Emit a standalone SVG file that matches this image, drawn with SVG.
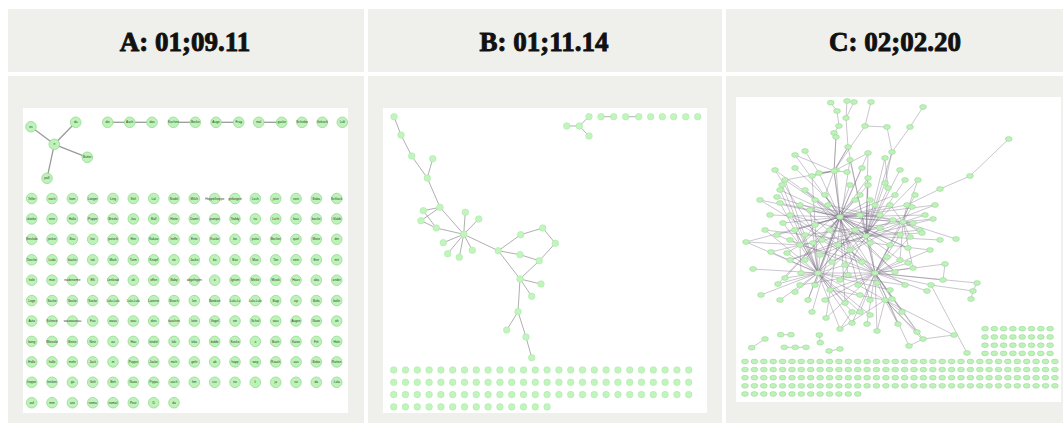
<svg xmlns="http://www.w3.org/2000/svg" xmlns:xlink="http://www.w3.org/1999/xlink" width="1063" height="423" viewBox="0 0 1063 423">
<style>
.cell{fill:#eff0eb}
.img{fill:#ffffff}
.hd{font-family:"Liberation Serif","DejaVu Serif",serif;font-weight:700;font-size:27px;fill:#111;stroke:#111;stroke-width:0.9;text-anchor:middle}
#pA circle{fill:#bdf3b8;stroke:#93dc8e;stroke-width:0.8}
#pA text{font-family:"Liberation Sans",Arial,sans-serif;font-size:3.2px;fill:#333;text-anchor:middle}
.ea{stroke:#9a9a9a;stroke-width:1.3;fill:none}
.nb{fill:#c2f5bd;stroke:#a5e6a0;stroke-width:0.5}
.eb{stroke:#b0b0b0;stroke-width:1;fill:none}
.nc{fill:#bff1ba;stroke:#8fd58a;stroke-width:0.5}
.ec{stroke:#7d7386;stroke-width:0.55;fill:none;opacity:0.75}
</style>
<defs>
<circle id="bn" r="3.3" class="nb"/>
<ellipse id="cn" rx="3.4" ry="2.4" class="nc"/>
</defs>
<rect width="1063" height="423" fill="#ffffff"/>
<g id="cells">
<rect class="cell" x="8" y="9" width="356" height="63"/>
<rect class="cell" x="368" y="9" width="354" height="63"/>
<rect class="cell" x="726" y="9" width="337" height="63"/>
<rect class="cell" x="8" y="76" width="356" height="347"/>
<rect class="cell" x="368" y="76" width="354" height="347"/>
<rect class="cell" x="726" y="76" width="337" height="347"/>
<rect class="img" x="23" y="108" width="325" height="305"/>
<rect class="img" x="383" y="108" width="324" height="305"/>
<rect class="img" x="736" y="97" width="325" height="305"/>
</g>
<g id="headers">
<text class="hd" x="185" y="50.5">A: 01;09.11</text>
<text class="hd" x="544" y="50.5">B: 01;11.14</text>
<text class="hd" x="895" y="50.5">C: 02;02.20</text>
</g>

<g id="pA">
<g id="connectorsA">
<line class="ea" x1="54.3" y1="144.3" x2="31" y2="126.7"/>
<line class="ea" x1="54.3" y1="144.3" x2="75.7" y2="122.3"/>
<line class="ea" x1="54.3" y1="144.3" x2="87.3" y2="157.3"/>
<line class="ea" x1="54.3" y1="144.3" x2="47" y2="178.3"/>
<line class="ea" x1="107.7" y1="122.3" x2="129.7" y2="122.3"/>
<line class="ea" x1="129.7" y1="122.3" x2="152" y2="122.3"/>
<line class="ea" x1="173.3" y1="122.3" x2="195.3" y2="122.3"/>
<line class="ea" x1="216" y1="122.3" x2="238.7" y2="122.3"/>
<line class="ea" x1="258.7" y1="122.3" x2="281.7" y2="122.3"/>
</g>
<g id="a-es" transform="translate(31 126.7)"><circle r="5.3"/><text y="1.1">es</text></g>
<g id="a-da0" transform="translate(75.7 122.3)"><circle r="5.3"/><text y="1.1">da</text></g>
<g id="a-n" transform="translate(54.3 144.3)"><circle r="5.3"/><text y="1.1">n</text></g>
<g id="a-butter" transform="translate(87.3 157.3)"><circle r="5.3"/><text y="1.1">Butter</text></g>
<g id="a-pass" transform="translate(47 178.3)"><circle r="5.3"/><text y="1.1">paß</text></g>
<g id="a-die" transform="translate(107.7 122.3)"><circle r="5.3"/><text y="1.1">die</text></g>
<g id="a-auch0" transform="translate(129.7 122.3)"><circle r="5.3"/><text y="1.1">Auch</text></g>
<g id="a-das" transform="translate(152 122.3)"><circle r="5.3"/><text y="1.1">das</text></g>
<g id="a-kuchen" transform="translate(173.3 122.3)"><circle r="5.3"/><text y="1.1">Kuchen</text></g>
<g id="a-becke" transform="translate(195.3 122.3)"><circle r="5.3"/><text y="1.1">Becke</text></g>
<g id="a-auge" transform="translate(216 122.3)"><circle r="5.3"/><text y="1.1">Auge</text></g>
<g id="a-frag" transform="translate(238.7 122.3)"><circle r="5.3"/><text y="1.1">Frag</text></g>
<g id="a-mal" transform="translate(258.7 122.3)"><circle r="5.3"/><text y="1.1">mal</text></g>
<g id="a-gucke" transform="translate(281.7 122.3)"><circle r="5.3"/><text y="1.1">gucke</text></g>
<g id="a-schiebe" transform="translate(302 122.3)"><circle r="5.3"/><text y="1.1">Schiebe</text></g>
<g id="a-gekoch" transform="translate(322.3 122.3)"><circle r="5.3"/><text y="1.1">Gekoch</text></g>
<g id="a-luft" transform="translate(342.3 122.3)"><circle r="5.3"/><text y="1.1">Luft</text></g>

<g id="a1-1" transform="translate(31.7 198.5)"><circle r="5.3"/><text y="1.1">Teller</text></g>
<g id="a1-2" transform="translate(52 198.5)"><circle r="5.3"/><text y="1.1">noch</text></g>
<g id="a1-3" transform="translate(72.4 198.5)"><circle r="5.3"/><text y="1.1">ham</text></g>
<g id="a1-4" transform="translate(92.7 198.5)"><circle r="5.3"/><text y="1.1">Langer</text></g>
<g id="a1-5" transform="translate(113 198.5)"><circle r="5.3"/><text y="1.1">Ling</text></g>
<g id="a1-6" transform="translate(133.3 198.5)"><circle r="5.3"/><text y="1.1">Stirl</text></g>
<g id="a1-7" transform="translate(153.7 198.5)"><circle r="5.3"/><text y="1.1">Lal</text></g>
<g id="a1-8" transform="translate(174 198.5)"><circle r="5.3"/><text y="1.1">Nudel</text></g>
<g id="a1-9" transform="translate(194.3 198.5)"><circle r="5.3"/><text y="1.1">Milch</text></g>
<g id="a1-10" transform="translate(214.7 198.5)"><circle r="5.3"/><text y="1.1">Hoppelhoppe</text></g>
<g id="a1-11" transform="translate(235 198.5)"><circle r="5.3"/><text y="1.1">gefangen</text></g>
<g id="a1-12" transform="translate(255.3 198.5)"><circle r="5.3"/><text y="1.1">Loch</text></g>
<g id="a1-13" transform="translate(275.7 198.5)"><circle r="5.3"/><text y="1.1">jetzt</text></g>
<g id="a1-14" transform="translate(296 198.5)"><circle r="5.3"/><text y="1.1">sein</text></g>
<g id="a1-15" transform="translate(316.3 198.5)"><circle r="5.3"/><text y="1.1">Baba</text></g>
<g id="a1-16" transform="translate(336.7 198.5)"><circle r="5.3"/><text y="1.1">Schluck</text></g>

<g id="a2-1" transform="translate(31.7 218.9)"><circle r="5.3"/><text y="1.1">danke</text></g>
<g id="a2-2" transform="translate(52 218.9)"><circle r="5.3"/><text y="1.1">eine</text></g>
<g id="a2-3" transform="translate(72.4 218.9)"><circle r="5.3"/><text y="1.1">Hallo</text></g>
<g id="a2-4" transform="translate(92.7 218.9)"><circle r="5.3"/><text y="1.1">Puppe</text></g>
<g id="a2-5" transform="translate(113 218.9)"><circle r="5.3"/><text y="1.1">Brezle</text></g>
<g id="a2-6" transform="translate(133.3 218.9)"><circle r="5.3"/><text y="1.1">Jua</text></g>
<g id="a2-7" transform="translate(153.7 218.9)"><circle r="5.3"/><text y="1.1">Ball</text></g>
<g id="a2-8" transform="translate(174 218.9)"><circle r="5.3"/><text y="1.1">Hatte</text></g>
<g id="a2-9" transform="translate(194.3 218.9)"><circle r="5.3"/><text y="1.1">Damit</text></g>
<g id="a2-10" transform="translate(214.7 218.9)"><circle r="5.3"/><text y="1.1">pumpe</text></g>
<g id="a2-11" transform="translate(235 218.9)"><circle r="5.3"/><text y="1.1">Teddy</text></g>
<g id="a2-12" transform="translate(255.3 218.9)"><circle r="5.3"/><text y="1.1">nu</text></g>
<g id="a2-13" transform="translate(275.7 218.9)"><circle r="5.3"/><text y="1.1">Licht</text></g>
<g id="a2-14" transform="translate(296 218.9)"><circle r="5.3"/><text y="1.1">bau</text></g>
<g id="a2-15" transform="translate(316.3 218.9)"><circle r="5.3"/><text y="1.1">backe</text></g>
<g id="a2-16" transform="translate(336.7 218.9)"><circle r="5.3"/><text y="1.1">Glabb</text></g>

<g id="a3-1" transform="translate(31.7 239.3)"><circle r="5.3"/><text y="1.1">Steckdo</text></g>
<g id="a3-2" transform="translate(52 239.3)"><circle r="5.3"/><text y="1.1">jecker</text></g>
<g id="a3-3" transform="translate(72.4 239.3)"><circle r="5.3"/><text y="1.1">Bau</text></g>
<g id="a3-4" transform="translate(92.7 239.3)"><circle r="5.3"/><text y="1.1">hoi</text></g>
<g id="a3-5" transform="translate(113 239.3)"><circle r="5.3"/><text y="1.1">putsch</text></g>
<g id="a3-6" transform="translate(133.3 239.3)"><circle r="5.3"/><text y="1.1">Hier</text></g>
<g id="a3-7" transform="translate(153.7 239.3)"><circle r="5.3"/><text y="1.1">Kakao</text></g>
<g id="a3-8" transform="translate(174 239.3)"><circle r="5.3"/><text y="1.1">heffe</text></g>
<g id="a3-9" transform="translate(194.3 239.3)"><circle r="5.3"/><text y="1.1">Ente</text></g>
<g id="a3-10" transform="translate(214.7 239.3)"><circle r="5.3"/><text y="1.1">Kucke</text></g>
<g id="a3-11" transform="translate(235 239.3)"><circle r="5.3"/><text y="1.1">bo</text></g>
<g id="a3-12" transform="translate(255.3 239.3)"><circle r="5.3"/><text y="1.1">putta</text></g>
<g id="a3-13" transform="translate(275.7 239.3)"><circle r="5.3"/><text y="1.1">Becher</text></g>
<g id="a3-14" transform="translate(296 239.3)"><circle r="5.3"/><text y="1.1">quel</text></g>
<g id="a3-15" transform="translate(316.3 239.3)"><circle r="5.3"/><text y="1.1">Moss</text></g>
<g id="a3-16" transform="translate(336.7 239.3)"><circle r="5.3"/><text y="1.1">der</text></g>

<g id="a4-1" transform="translate(31.7 259.8)"><circle r="5.3"/><text y="1.1">Tosche</text></g>
<g id="a4-2" transform="translate(52 259.8)"><circle r="5.3"/><text y="1.1">Ludo</text></g>
<g id="a4-3" transform="translate(72.4 259.8)"><circle r="5.3"/><text y="1.1">backe</text></g>
<g id="a4-4" transform="translate(92.7 259.8)"><circle r="5.3"/><text y="1.1">tati</text></g>
<g id="a4-5" transform="translate(113 259.8)"><circle r="5.3"/><text y="1.1">Mark</text></g>
<g id="a4-6" transform="translate(133.3 259.8)"><circle r="5.3"/><text y="1.1">Turm</text></g>
<g id="a4-7" transform="translate(153.7 259.8)"><circle r="5.3"/><text y="1.1">Knopf</text></g>
<g id="a4-8" transform="translate(174 259.8)"><circle r="5.3"/><text y="1.1">ne</text></g>
<g id="a4-9" transform="translate(194.3 259.8)"><circle r="5.3"/><text y="1.1">Jacke</text></g>
<g id="a4-10" transform="translate(214.7 259.8)"><circle r="5.3"/><text y="1.1">ba</text></g>
<g id="a4-11" transform="translate(235 259.8)"><circle r="5.3"/><text y="1.1">Box</text></g>
<g id="a4-12" transform="translate(255.3 259.8)"><circle r="5.3"/><text y="1.1">Max</text></g>
<g id="a4-13" transform="translate(275.7 259.8)"><circle r="5.3"/><text y="1.1">Ton</text></g>
<g id="a4-14" transform="translate(296 259.8)"><circle r="5.3"/><text y="1.1">nein</text></g>
<g id="a4-15" transform="translate(316.3 259.8)"><circle r="5.3"/><text y="1.1">Eier</text></g>
<g id="a4-16" transform="translate(336.7 259.8)"><circle r="5.3"/><text y="1.1">mit</text></g>

<g id="a5-1" transform="translate(31.7 280.2)"><circle r="5.3"/><text y="1.1">hole</text></g>
<g id="a5-2" transform="translate(52 280.2)"><circle r="5.3"/><text y="1.1">mun</text></g>
<g id="a5-3" transform="translate(72.4 280.2)"><circle r="5.3"/><text y="1.1">nudenorme</text></g>
<g id="a5-4" transform="translate(92.7 280.2)"><circle r="5.3"/><text y="1.1">Elk</text></g>
<g id="a5-5" transform="translate(113 280.2)"><circle r="5.3"/><text y="1.1">Lenkrad</text></g>
<g id="a5-6" transform="translate(133.3 280.2)"><circle r="5.3"/><text y="1.1">ah</text></g>
<g id="a5-7" transform="translate(153.7 280.2)"><circle r="5.3"/><text y="1.1">offen</text></g>
<g id="a5-8" transform="translate(174 280.2)"><circle r="5.3"/><text y="1.1">Baby</text></g>
<g id="a5-9" transform="translate(194.3 280.2)"><circle r="5.3"/><text y="1.1">abgefegen</text></g>
<g id="a5-10" transform="translate(214.7 280.2)"><circle r="5.3"/><text y="1.1">o</text></g>
<g id="a5-11" transform="translate(235 280.2)"><circle r="5.3"/><text y="1.1">Igitum</text></g>
<g id="a5-12" transform="translate(255.3 280.2)"><circle r="5.3"/><text y="1.1">Meike</text></g>
<g id="a5-13" transform="translate(275.7 280.2)"><circle r="5.3"/><text y="1.1">Musik</text></g>
<g id="a5-14" transform="translate(296 280.2)"><circle r="5.3"/><text y="1.1">Haus</text></g>
<g id="a5-15" transform="translate(316.3 280.2)"><circle r="5.3"/><text y="1.1">aba</text></g>
<g id="a5-16" transform="translate(336.7 280.2)"><circle r="5.3"/><text y="1.1">ander</text></g>

<g id="a6-1" transform="translate(31.7 300.6)"><circle r="5.3"/><text y="1.1">Loge</text></g>
<g id="a6-2" transform="translate(52 300.6)"><circle r="5.3"/><text y="1.1">Sache</text></g>
<g id="a6-3" transform="translate(72.4 300.6)"><circle r="5.3"/><text y="1.1">Socke</text></g>
<g id="a6-4" transform="translate(92.7 300.6)"><circle r="5.3"/><text y="1.1">Socke</text></g>
<g id="a6-5" transform="translate(113 300.6)"><circle r="5.3"/><text y="1.1">Lulu-Lulu</text></g>
<g id="a6-6" transform="translate(133.3 300.6)"><circle r="5.3"/><text y="1.1">Lulu-Lulu</text></g>
<g id="a6-7" transform="translate(153.7 300.6)"><circle r="5.3"/><text y="1.1">Laterne</text></g>
<g id="a6-8" transform="translate(174 300.6)"><circle r="5.3"/><text y="1.1">Busch</text></g>
<g id="a6-9" transform="translate(194.3 300.6)"><circle r="5.3"/><text y="1.1">Ion</text></g>
<g id="a6-10" transform="translate(214.7 300.6)"><circle r="5.3"/><text y="1.1">Bonbon</text></g>
<g id="a6-11" transform="translate(235 300.6)"><circle r="5.3"/><text y="1.1">Lulu-Lu</text></g>
<g id="a6-12" transform="translate(255.3 300.6)"><circle r="5.3"/><text y="1.1">Lulu-Lulu</text></g>
<g id="a6-13" transform="translate(275.7 300.6)"><circle r="5.3"/><text y="1.1">Bagi</text></g>
<g id="a6-14" transform="translate(296 300.6)"><circle r="5.3"/><text y="1.1">zip</text></g>
<g id="a6-15" transform="translate(316.3 300.6)"><circle r="5.3"/><text y="1.1">Bofa</text></g>
<g id="a6-16" transform="translate(336.7 300.6)"><circle r="5.3"/><text y="1.1">bolle</text></g>

<g id="a7-1" transform="translate(31.7 321)"><circle r="5.3"/><text y="1.1">Auto</text></g>
<g id="a7-2" transform="translate(52 321)"><circle r="5.3"/><text y="1.1">Schnee</text></g>
<g id="a7-3" transform="translate(72.4 321)"><circle r="5.3"/><text y="1.1">wauwauwau</text></g>
<g id="a7-4" transform="translate(92.7 321)"><circle r="5.3"/><text y="1.1">Fuu</text></g>
<g id="a7-5" transform="translate(113 321)"><circle r="5.3"/><text y="1.1">wauu</text></g>
<g id="a7-6" transform="translate(133.3 321)"><circle r="5.3"/><text y="1.1">wau</text></g>
<g id="a7-7" transform="translate(153.7 321)"><circle r="5.3"/><text y="1.1">dies</text></g>
<g id="a7-8" transform="translate(174 321)"><circle r="5.3"/><text y="1.1">tauchen</text></g>
<g id="a7-9" transform="translate(194.3 321)"><circle r="5.3"/><text y="1.1">lotte</text></g>
<g id="a7-10" transform="translate(214.7 321)"><circle r="5.3"/><text y="1.1">Vogel</text></g>
<g id="a7-11" transform="translate(235 321)"><circle r="5.3"/><text y="1.1">ein</text></g>
<g id="a7-12" transform="translate(255.3 321)"><circle r="5.3"/><text y="1.1">Schaf</text></g>
<g id="a7-13" transform="translate(275.7 321)"><circle r="5.3"/><text y="1.1">wau</text></g>
<g id="a7-14" transform="translate(296 321)"><circle r="5.3"/><text y="1.1">Augen</text></g>
<g id="a7-15" transform="translate(316.3 321)"><circle r="5.3"/><text y="1.1">Nase</text></g>
<g id="a7-16" transform="translate(336.7 321)"><circle r="5.3"/><text y="1.1">oh</text></g>

<g id="a8-1" transform="translate(31.7 341.4)"><circle r="5.3"/><text y="1.1">bong</text></g>
<g id="a8-2" transform="translate(52 341.4)"><circle r="5.3"/><text y="1.1">Wiesele</text></g>
<g id="a8-3" transform="translate(72.4 341.4)"><circle r="5.3"/><text y="1.1">Beine</text></g>
<g id="a8-4" transform="translate(92.7 341.4)"><circle r="5.3"/><text y="1.1">Ninir</text></g>
<g id="a8-5" transform="translate(113 341.4)"><circle r="5.3"/><text y="1.1">au</text></g>
<g id="a8-6" transform="translate(133.3 341.4)"><circle r="5.3"/><text y="1.1">Hau</text></g>
<g id="a8-7" transform="translate(153.7 341.4)"><circle r="5.3"/><text y="1.1">kindel</text></g>
<g id="a8-8" transform="translate(174 341.4)"><circle r="5.3"/><text y="1.1">kiki</text></g>
<g id="a8-9" transform="translate(194.3 341.4)"><circle r="5.3"/><text y="1.1">kika</text></g>
<g id="a8-10" transform="translate(214.7 341.4)"><circle r="5.3"/><text y="1.1">bidde</text></g>
<g id="a8-11" transform="translate(235 341.4)"><circle r="5.3"/><text y="1.1">Socke</text></g>
<g id="a8-12" transform="translate(255.3 341.4)"><circle r="5.3"/><text y="1.1">o</text></g>
<g id="a8-13" transform="translate(275.7 341.4)"><circle r="5.3"/><text y="1.1">Buch</text></g>
<g id="a8-14" transform="translate(296 341.4)"><circle r="5.3"/><text y="1.1">Katze</text></g>
<g id="a8-15" transform="translate(316.3 341.4)"><circle r="5.3"/><text y="1.1">Fitt</text></g>
<g id="a8-16" transform="translate(336.7 341.4)"><circle r="5.3"/><text y="1.1">Hole</text></g>

<g id="a9-1" transform="translate(31.7 361.9)"><circle r="5.3"/><text y="1.1">Hallo</text></g>
<g id="a9-2" transform="translate(52 361.9)"><circle r="5.3"/><text y="1.1">hallo</text></g>
<g id="a9-3" transform="translate(72.4 361.9)"><circle r="5.3"/><text y="1.1">mehr</text></g>
<g id="a9-4" transform="translate(92.7 361.9)"><circle r="5.3"/><text y="1.1">Jack</text></g>
<g id="a9-5" transform="translate(113 361.9)"><circle r="5.3"/><text y="1.1">m</text></g>
<g id="a9-6" transform="translate(133.3 361.9)"><circle r="5.3"/><text y="1.1">Puppe</text></g>
<g id="a9-7" transform="translate(153.7 361.9)"><circle r="5.3"/><text y="1.1">Jacke</text></g>
<g id="a9-8" transform="translate(174 361.9)"><circle r="5.3"/><text y="1.1">mich</text></g>
<g id="a9-9" transform="translate(194.3 361.9)"><circle r="5.3"/><text y="1.1">geht</text></g>
<g id="a9-10" transform="translate(214.7 361.9)"><circle r="5.3"/><text y="1.1">ab</text></g>
<g id="a9-11" transform="translate(235 361.9)"><circle r="5.3"/><text y="1.1">happ</text></g>
<g id="a9-12" transform="translate(255.3 361.9)"><circle r="5.3"/><text y="1.1">weg</text></g>
<g id="a9-13" transform="translate(275.7 361.9)"><circle r="5.3"/><text y="1.1">Rauch</text></g>
<g id="a9-14" transform="translate(296 361.9)"><circle r="5.3"/><text y="1.1">aus</text></g>
<g id="a9-15" transform="translate(316.3 361.9)"><circle r="5.3"/><text y="1.1">Bobo</text></g>
<g id="a9-16" transform="translate(336.7 361.9)"><circle r="5.3"/><text y="1.1">Ratten</text></g>

<g id="a10-1" transform="translate(31.7 382.3)"><circle r="5.3"/><text y="1.1">hoppe</text></g>
<g id="a10-2" transform="translate(52 382.3)"><circle r="5.3"/><text y="1.1">trinken</text></g>
<g id="a10-3" transform="translate(72.4 382.3)"><circle r="5.3"/><text y="1.1">ga</text></g>
<g id="a10-4" transform="translate(92.7 382.3)"><circle r="5.3"/><text y="1.1">Gelt</text></g>
<g id="a10-5" transform="translate(113 382.3)"><circle r="5.3"/><text y="1.1">Bett</text></g>
<g id="a10-6" transform="translate(133.3 382.3)"><circle r="5.3"/><text y="1.1">Nasa</text></g>
<g id="a10-7" transform="translate(153.7 382.3)"><circle r="5.3"/><text y="1.1">Pippa</text></g>
<g id="a10-8" transform="translate(174 382.3)"><circle r="5.3"/><text y="1.1">auch</text></g>
<g id="a10-9" transform="translate(194.3 382.3)"><circle r="5.3"/><text y="1.1">hm</text></g>
<g id="a10-10" transform="translate(214.7 382.3)"><circle r="5.3"/><text y="1.1">ccc</text></g>
<g id="a10-11" transform="translate(235 382.3)"><circle r="5.3"/><text y="1.1">no</text></g>
<g id="a10-12" transform="translate(255.3 382.3)"><circle r="5.3"/><text y="1.1">li</text></g>
<g id="a10-13" transform="translate(275.7 382.3)"><circle r="5.3"/><text y="1.1">ja</text></g>
<g id="a10-14" transform="translate(296 382.3)"><circle r="5.3"/><text y="1.1">so</text></g>
<g id="a10-15" transform="translate(316.3 382.3)"><circle r="5.3"/><text y="1.1">da</text></g>
<g id="a10-16" transform="translate(336.7 382.3)"><circle r="5.3"/><text y="1.1">Lala</text></g>

<g id="a11-1" transform="translate(31.7 402.7)"><circle r="5.3"/><text y="1.1">auf</text></g>
<g id="a11-2" transform="translate(52 402.7)"><circle r="5.3"/><text y="1.1">mm</text></g>
<g id="a11-3" transform="translate(72.4 402.7)"><circle r="5.3"/><text y="1.1">ass</text></g>
<g id="a11-4" transform="translate(92.7 402.7)"><circle r="5.3"/><text y="1.1">noma</text></g>
<g id="a11-5" transform="translate(113 402.7)"><circle r="5.3"/><text y="1.1">nomal</text></g>
<g id="a11-6" transform="translate(133.3 402.7)"><circle r="5.3"/><text y="1.1">Peur</text></g>
<g id="a11-7" transform="translate(153.7 402.7)"><circle r="5.3"/><text y="1.1">D</text></g>
<g id="a11-8" transform="translate(174 402.7)"><circle r="5.3"/><text y="1.1">da</text></g>
</g>

<g id="pB">
<g id="connectorsB">
<path class="eb" d="M394 116.7L401 135L411.7 156L427.3 178L440 207.3L463.7 234.3M432.7 158.7L427.3 178M440 207.3L423.3 210.7L436.3 228L463.7 234.3M440 207.3L421 220.7L436.3 228M463.7 234.3L465.3 212.3M463.7 234.3L478.7 219M463.7 234.3L443.3 242.7M463.7 234.3L472.3 250.3M463.7 234.3L447.7 253.7M463.7 234.3L459.3 257.3M463.7 234.3L498.3 250.7L520.7 234.7L542.7 228L555.3 243.3L539.3 260.7L520 254.7L498.3 250.7M539.3 260.7L520 279L498.3 250.7M520 279L541 284M520 279L531.7 296.3M520 279L518 311.7L506.7 330M518 311.7L526 337L531.7 357.7"/>
<path class="eb" d="M566.7 126L579.3 126L589 116.7M579.3 126L589 136M601 116.7L613.7 116.7M625.7 116.7L638.7 116.7"/>
</g>
<g id="nodesB">
<use id="b1" href="#bn" x="394" y="116.7"/>
<use id="b2" href="#bn" x="401" y="135"/>
<use id="b3" href="#bn" x="411.7" y="156"/>
<use id="b4" href="#bn" x="432.7" y="158.7"/>
<use id="b5" href="#bn" x="427.3" y="178"/>
<use id="b6" href="#bn" x="440" y="207.3"/>
<use id="b7" href="#bn" x="423.3" y="210.7"/>
<use id="b8" href="#bn" x="421" y="220.7"/>
<use id="b9" href="#bn" x="436.3" y="228"/>
<use id="b10" href="#bn" x="463.7" y="234.3"/>
<use id="b11" href="#bn" x="465.3" y="212.3"/>
<use id="b12" href="#bn" x="478.7" y="219"/>
<use id="b13" href="#bn" x="443.3" y="242.7"/>
<use id="b14" href="#bn" x="472.3" y="250.3"/>
<use id="b15" href="#bn" x="447.7" y="253.7"/>
<use id="b16" href="#bn" x="459.3" y="257.3"/>
<use id="b17" href="#bn" x="498.3" y="250.7"/>
<use id="b18" href="#bn" x="520.7" y="234.7"/>
<use id="b19" href="#bn" x="542.7" y="228"/>
<use id="b20" href="#bn" x="555.3" y="243.3"/>
<use id="b21" href="#bn" x="539.3" y="260.7"/>
<use id="b22" href="#bn" x="520" y="254.7"/>
<use id="b23" href="#bn" x="520" y="279"/>
<use id="b24" href="#bn" x="541" y="284"/>
<use id="b25" href="#bn" x="531.7" y="296.3"/>
<use id="b26" href="#bn" x="518" y="311.7"/>
<use id="b27" href="#bn" x="506.7" y="330"/>
<use id="b28" href="#bn" x="526" y="337"/>
<use id="b29" href="#bn" x="531.7" y="357.7"/>
<use id="b30" href="#bn" x="566.7" y="126"/>
<use id="b31" href="#bn" x="579.3" y="126"/>
<use id="b32" href="#bn" x="589" y="116.7"/>
<use id="b33" href="#bn" x="589" y="136"/>
<use id="b34" href="#bn" x="601" y="116.7"/>
<use id="b35" href="#bn" x="613.7" y="116.7"/>
<use id="b36" href="#bn" x="625.7" y="116.7"/>
<use id="b37" href="#bn" x="638.7" y="116.7"/>
<use id="b38" href="#bn" x="650.7" y="116.7"/>
<use id="b39" href="#bn" x="662.3" y="116.7"/>
<use id="b40" href="#bn" x="673.7" y="116.7"/>
<use id="b41" href="#bn" x="685.7" y="116.7"/>
<use id="b42" href="#bn" x="697.7" y="116.7"/>
</g>
<g id="gridB">
<g transform="translate(0 370)">
<use href="#bn" x="393.7"/><use href="#bn" x="405.5"/><use href="#bn" x="417.3"/><use href="#bn" x="429.1"/><use href="#bn" x="440.9"/><use href="#bn" x="452.7"/><use href="#bn" x="464.5"/><use href="#bn" x="476.3"/><use href="#bn" x="488.1"/><use href="#bn" x="499.9"/><use href="#bn" x="511.7"/><use href="#bn" x="523.5"/><use href="#bn" x="535.3"/><use href="#bn" x="547.1"/><use href="#bn" x="558.9"/><use href="#bn" x="570.7"/><use href="#bn" x="582.5"/><use href="#bn" x="594.3"/><use href="#bn" x="606.1"/><use href="#bn" x="617.9"/><use href="#bn" x="629.7"/><use href="#bn" x="641.5"/><use href="#bn" x="653.3"/><use href="#bn" x="665.1"/><use href="#bn" x="676.9"/><use href="#bn" x="688.7"/>
</g>
<g transform="translate(0 382.3)">
<use href="#bn" x="393.7"/><use href="#bn" x="405.5"/><use href="#bn" x="417.3"/><use href="#bn" x="429.1"/><use href="#bn" x="440.9"/><use href="#bn" x="452.7"/><use href="#bn" x="464.5"/><use href="#bn" x="476.3"/><use href="#bn" x="488.1"/><use href="#bn" x="499.9"/><use href="#bn" x="511.7"/><use href="#bn" x="523.5"/><use href="#bn" x="535.3"/><use href="#bn" x="547.1"/><use href="#bn" x="558.9"/><use href="#bn" x="570.7"/><use href="#bn" x="582.5"/><use href="#bn" x="594.3"/><use href="#bn" x="606.1"/><use href="#bn" x="617.9"/><use href="#bn" x="629.7"/><use href="#bn" x="641.5"/><use href="#bn" x="653.3"/><use href="#bn" x="665.1"/><use href="#bn" x="676.9"/><use href="#bn" x="688.7"/>
</g>
<g transform="translate(0 394.6)">
<use href="#bn" x="393.7"/><use href="#bn" x="405.5"/><use href="#bn" x="417.3"/><use href="#bn" x="429.1"/><use href="#bn" x="440.9"/><use href="#bn" x="452.7"/><use href="#bn" x="464.5"/><use href="#bn" x="476.3"/><use href="#bn" x="488.1"/><use href="#bn" x="499.9"/><use href="#bn" x="511.7"/><use href="#bn" x="523.5"/><use href="#bn" x="535.3"/><use href="#bn" x="547.1"/><use href="#bn" x="558.9"/><use href="#bn" x="570.7"/><use href="#bn" x="582.5"/><use href="#bn" x="594.3"/><use href="#bn" x="606.1"/><use href="#bn" x="617.9"/><use href="#bn" x="629.7"/><use href="#bn" x="641.5"/><use href="#bn" x="653.3"/><use href="#bn" x="665.1"/><use href="#bn" x="676.9"/><use href="#bn" x="688.7"/>
</g>
<g transform="translate(0 406.9)">
<use href="#bn" x="393.7"/><use href="#bn" x="405.5"/><use href="#bn" x="417.3"/><use href="#bn" x="429.1"/><use href="#bn" x="440.9"/><use href="#bn" x="452.7"/><use href="#bn" x="464.5"/><use href="#bn" x="476.3"/><use href="#bn" x="488.1"/><use href="#bn" x="499.9"/><use href="#bn" x="511.7"/><use href="#bn" x="523.5"/><use href="#bn" x="535.3"/><use href="#bn" x="547.1"/>
</g>
</g>
</g>

<g id="pC">
<g id="connectorsC">
<path class="ec" d="M830.7 102.7L837 111L839 126L834 133L836 137L834 171M847 101L846 118L848 147L834 171M854 102L846 118M871 102L865 126L887 127L892 152L885 183M923 107L910 127L892 152M868 153L840 217M885 158L888 188M1008.7 139L970 176L940 189L907 205L903 222M795 155L834 171M805 151L819 173L834 171M865 126L834 171M977 283L973 291L971 299M973 291L931 285M943 280L945 264M909 346L923 339L954 335M967 353L931 285M840 329L852 312"/>
<path class="ec" d="M840 217L825 195M840 217L855 200M840 217L810 210M840 217L830 230M840 217L850 250M840 217L860 215M840 217L777 197M840 217L780 203M840 217L783 223M840 217L777 235M840 217L778 284M840 217L785 278M840 217L808 300M840 217L813 243M840 217L890 245M840 217L900 260M840 217L900 235M840 217L880 215M840 217L795 230M840 217L815 225M840 217L870 200M840 217L890 205M840 217L913 223M840 217L925 215M840 217L868 178M840 217L868 185M840 217L836 170M840 217L834 171M840 217L866 236M840 217L818 273M840 217L903 222M840 217L845 303M840 217L858 285M840 217L795 155M840 217L819 173M840 217L907 205M840 217L746 242M840 217L785 180"/>
<path class="ec" d="M818 273L753 269M818 273L761 295M818 273L778 284M818 273L785 278M818 273L795 292M818 273L808 300M818 273L801 273M818 273L813 243M818 273L746 242M818 273L771 252M818 273L787 253M818 273L820 255M818 273L845 265M818 273L830 290M818 273L840 329M818 273L845 303M818 273L852 312M818 273L785 180M818 273L782 185M818 273L810 210M818 273L795 230M818 273L800 245M818 273L875 273M818 273L812 176M818 273L780 203M818 273L860 312M818 273L851.7 322.7"/>
<path class="ec" d="M875 273L850 250M875 273L845 265M875 273L890 245M875 273L900 260M875 273L858 285M875 273L887 257M875 273L870 243M875 273L877 283M875 273L892 299M875 273L902 312M875 273L913 268M875 273L908 263M875 273L945 264M875 273L931 285M875 273L943 280M875 273L927 291M875 273L860 312M875 273L852 323M875 273L867 324M875 273L877 331M875 273L898 324M875 273L917 332M875 273L923 339M875 273L909 346M875 273L900 235M875 273L910 237M875 273L866 236M875 273L903 222M875 273L977 283M875 273L830 290M875 273L825 195"/>
<path class="ec" d="M866 236L868 178M866 236L868 185M866 236L885 183M866 236L888 188M866 236L860 215M866 236L880 215M866 236L870 200M866 236L870 243M866 236L922 233M866 236L920 230M866 236L933 219M866 236L830 230M866 236L820 255M866 236L868 153M866 236L885 158M866 236L892 152M866 236L848 147"/>
<path class="ec" d="M834 171L848 147M834 171L836 137M834 171L819 173M834 171L812 176M834 171L785 180M834 171L825 195M834 171L847 172M834 171L836 170M834 171L868 153M903 222L912 207M903 222L933 219M903 222L956 239M903 222L913 223M903 222L910 237M903 222L920 230M903 222L925 215M903 222L922 233M903 222L900 260M903 222L890 205M903 222L913 268"/>
<path class="ec" d="M800 245L783 223M800 245L777 235M800 245L746 242M800 245L771 252M800 245L787 253M800 245L801 273M800 245L813 243M800 245L795 230M800 245L815 225M885 300L877 283M885 300L892 299M885 300L902 312M885 300L877 331M885 300L898 324M885 300L917 332M885 300L858 285M885 300L830 290M885 300L840 329M885 300L954 335M885 300L922 339"/>
<path class="ec" d="M805 190L866 236M815 200L875 273M828 205L903 222M850 185L818 273M860 195L800 245M875 205L818 273M895 195L840 217M905 180L866 236M915 195L875 273M800 205L875 273M790 215L866 236M805 235L903 222M822 240L875 273M838 245L903 222M855 230L818 273M880 228L800 245M893 220L818 273M908 248L840 217M790 260L866 236M805 260L840 217M832 262L903 222M848 275L834 171M862 262L800 245M895 272L840 217M905 285L818 273M840 280L866 236M825 300L875 273M815 285L840 217M870 300L840 217M860 295L818 273M790 240L875 273M770 215L840 217M765 230L818 273M760 200L840 217M775 170L840 217M795 168L866 236M780 190L818 273M850 160L875 273M862 168L840 217M900 170L866 236M918 180L903 222M930 250L875 273M940 240L866 236M935 205L840 217M890 290L818 273M800 285L875 273M780 300L818 273M812 312L840 217M826 318L875 273M870 315L818 273M805 190L895 272M790 215L905 285M760 200L862 262M775 170L832 262M850 160L826 318M918 180L815 285M935 205L790 260M780 190L908 248M800 205L893 220M765 230L930 250"/>
</g>
<g id="nodesC">
<use href="#cn" x="830.7" y="102.7"/><use href="#cn" x="847" y="101"/><use href="#cn" x="854" y="102"/><use href="#cn" x="871" y="102"/><use href="#cn" x="923" y="107"/><use href="#cn" x="837" y="111"/><use href="#cn" x="846" y="118"/><use href="#cn" x="839" y="126"/><use href="#cn" x="865" y="126"/><use href="#cn" x="887" y="127"/><use href="#cn" x="910" y="127"/><use href="#cn" x="834" y="133"/><use href="#cn" x="836" y="137"/><use href="#cn" x="848" y="147"/><use href="#cn" x="892" y="152"/><use href="#cn" x="868" y="153"/><use href="#cn" x="885" y="158"/><use href="#cn" x="795" y="155"/><use href="#cn" x="805" y="151"/><use href="#cn" x="1008.7" y="139"/><use href="#cn" x="970" y="176"/><use href="#cn" x="940" y="189"/><use href="#cn" x="907" y="205"/><use href="#cn" x="912" y="207"/><use href="#cn" x="933" y="219"/><use href="#cn" x="956" y="239"/>
<use href="#cn" x="819" y="173"/><use href="#cn" x="812" y="176"/><use href="#cn" x="785" y="180"/><use href="#cn" x="782" y="185"/><use href="#cn" x="777" y="197"/><use href="#cn" x="780" y="203"/><use href="#cn" x="783" y="223"/><use href="#cn" x="777" y="235"/><use href="#cn" x="746" y="242"/><use href="#cn" x="771" y="252"/><use href="#cn" x="787" y="253"/><use href="#cn" x="753" y="269"/><use href="#cn" x="761" y="295"/><use href="#cn" x="778" y="284"/><use href="#cn" x="785" y="278"/><use href="#cn" x="795" y="292"/><use href="#cn" x="808" y="300"/><use href="#cn" x="801" y="273"/><use href="#cn" x="813" y="243"/>
<use href="#cn" x="836" y="170"/><use href="#cn" x="847" y="172"/><use href="#cn" x="868" y="178"/><use href="#cn" x="868" y="185"/><use href="#cn" x="885" y="183"/><use href="#cn" x="888" y="188"/><use href="#cn" x="825" y="195"/><use href="#cn" x="855" y="200"/><use href="#cn" x="810" y="210"/><use href="#cn" x="830" y="230"/><use href="#cn" x="850" y="250"/><use href="#cn" x="860" y="215"/><use href="#cn" x="820" y="255"/><use href="#cn" x="845" y="265"/><use href="#cn" x="890" y="245"/><use href="#cn" x="900" y="260"/><use href="#cn" x="858" y="285"/><use href="#cn" x="830" y="290"/><use href="#cn" x="900" y="235"/><use href="#cn" x="880" y="215"/><use href="#cn" x="795" y="230"/><use href="#cn" x="815" y="225"/><use href="#cn" x="870" y="200"/><use href="#cn" x="890" y="205"/>
<use href="#cn" x="913" y="223"/><use href="#cn" x="910" y="237"/><use href="#cn" x="920" y="230"/><use href="#cn" x="925" y="215"/><use href="#cn" x="945" y="264"/><use href="#cn" x="931" y="285"/><use href="#cn" x="943" y="280"/><use href="#cn" x="927" y="291"/><use href="#cn" x="977" y="283"/><use href="#cn" x="973" y="291"/><use href="#cn" x="971" y="299"/><use href="#cn" x="913" y="268"/><use href="#cn" x="908" y="263"/><use href="#cn" x="887" y="257"/><use href="#cn" x="870" y="243"/><use href="#cn" x="922" y="233"/>
<use href="#cn" x="840" y="329"/><use href="#cn" x="845" y="303"/><use href="#cn" x="852" y="312"/><use href="#cn" x="860" y="312"/><use href="#cn" x="852" y="323"/><use href="#cn" x="867" y="324"/><use href="#cn" x="877" y="331"/><use href="#cn" x="898" y="324"/><use href="#cn" x="877" y="283"/><use href="#cn" x="892" y="299"/><use href="#cn" x="902" y="312"/><use href="#cn" x="917" y="332"/><use href="#cn" x="923" y="339"/><use href="#cn" x="954" y="335"/><use href="#cn" x="909" y="346"/><use href="#cn" x="967" y="353"/>
<use href="#cn" x="805" y="190"/><use href="#cn" x="815" y="200"/><use href="#cn" x="828" y="205"/><use href="#cn" x="850" y="185"/><use href="#cn" x="860" y="195"/><use href="#cn" x="875" y="205"/><use href="#cn" x="895" y="195"/><use href="#cn" x="905" y="180"/><use href="#cn" x="915" y="195"/><use href="#cn" x="800" y="205"/><use href="#cn" x="790" y="215"/><use href="#cn" x="805" y="235"/><use href="#cn" x="822" y="240"/><use href="#cn" x="838" y="245"/><use href="#cn" x="855" y="230"/><use href="#cn" x="880" y="228"/><use href="#cn" x="893" y="220"/><use href="#cn" x="908" y="248"/><use href="#cn" x="790" y="260"/><use href="#cn" x="805" y="260"/><use href="#cn" x="832" y="262"/><use href="#cn" x="848" y="275"/><use href="#cn" x="862" y="262"/><use href="#cn" x="895" y="272"/><use href="#cn" x="905" y="285"/><use href="#cn" x="840" y="280"/><use href="#cn" x="825" y="300"/><use href="#cn" x="815" y="285"/><use href="#cn" x="870" y="300"/><use href="#cn" x="860" y="295"/><use href="#cn" x="790" y="240"/><use href="#cn" x="770" y="215"/><use href="#cn" x="765" y="230"/><use href="#cn" x="760" y="200"/><use href="#cn" x="775" y="170"/><use href="#cn" x="795" y="168"/><use href="#cn" x="780" y="190"/><use href="#cn" x="850" y="160"/><use href="#cn" x="862" y="168"/><use href="#cn" x="900" y="170"/><use href="#cn" x="918" y="180"/><use href="#cn" x="930" y="250"/><use href="#cn" x="940" y="240"/><use href="#cn" x="935" y="205"/><use href="#cn" x="890" y="290"/><use href="#cn" x="800" y="285"/><use href="#cn" x="780" y="300"/><use href="#cn" x="812" y="312"/><use href="#cn" x="826" y="318"/><use href="#cn" x="870" y="315"/>
<use href="#cn" x="840" y="217"/><use href="#cn" x="818" y="273"/><use href="#cn" x="875" y="273"/><use href="#cn" x="866" y="236"/><use href="#cn" x="834" y="171"/><use href="#cn" x="903" y="222"/><use href="#cn" x="800" y="245"/><use href="#cn" x="885" y="300"/>
</g>
<g id="smallC">
<path class="ec" d="M751.7 347.7L765 339M780.7 334.7L791 334.7M784.3 347.3L806 347.3M819.3 335L820.3 342.7M829 351L840 349"/>
<use href="#cn" x="751.7" y="347.7"/><use href="#cn" x="765" y="339"/><use href="#cn" x="780.7" y="334.7"/><use href="#cn" x="791" y="334.7"/><use href="#cn" x="784.3" y="347.3"/><use href="#cn" x="795.3" y="347.3"/><use href="#cn" x="806" y="347.3"/><use href="#cn" x="819.3" y="335"/><use href="#cn" x="820.3" y="342.7"/><use href="#cn" x="829" y="351"/><use href="#cn" x="840" y="349"/>
</g>
<g id="gridC">
<g transform="translate(0 328.7)"><use href="#cn" x="985"/><use href="#cn" x="994.3"/><use href="#cn" x="1003.6"/><use href="#cn" x="1012.9"/><use href="#cn" x="1022.2"/><use href="#cn" x="1031.5"/><use href="#cn" x="1040.8"/><use href="#cn" x="1050.1"/></g>
<g transform="translate(0 337)"><use href="#cn" x="985"/><use href="#cn" x="994.3"/><use href="#cn" x="1003.6"/><use href="#cn" x="1012.9"/><use href="#cn" x="1022.2"/><use href="#cn" x="1031.5"/><use href="#cn" x="1040.8"/><use href="#cn" x="1050.1"/></g>
<g transform="translate(0 345.2)"><use href="#cn" x="985"/><use href="#cn" x="994.3"/><use href="#cn" x="1003.6"/><use href="#cn" x="1012.9"/><use href="#cn" x="1022.2"/><use href="#cn" x="1031.5"/><use href="#cn" x="1040.8"/><use href="#cn" x="1050.1"/></g>
<g transform="translate(0 353.4)"><use href="#cn" x="985"/><use href="#cn" x="994.3"/><use href="#cn" x="1003.6"/><use href="#cn" x="1012.9"/><use href="#cn" x="1022.2"/><use href="#cn" x="1031.5"/><use href="#cn" x="1040.8"/><use href="#cn" x="1050.1"/></g>
<g transform="translate(0 361.5)"><use href="#cn" x="745"/><use href="#cn" x="754.4"/><use href="#cn" x="763.8"/><use href="#cn" x="773.2"/><use href="#cn" x="782.6"/><use href="#cn" x="792"/><use href="#cn" x="801.3"/><use href="#cn" x="810.7"/><use href="#cn" x="820.1"/><use href="#cn" x="829.5"/><use href="#cn" x="838.9"/><use href="#cn" x="848.3"/><use href="#cn" x="857.7"/><use href="#cn" x="867.1"/><use href="#cn" x="876.5"/><use href="#cn" x="885.9"/><use href="#cn" x="895.2"/><use href="#cn" x="904.6"/><use href="#cn" x="914"/><use href="#cn" x="923.4"/><use href="#cn" x="932.8"/><use href="#cn" x="942.2"/><use href="#cn" x="951.6"/><use href="#cn" x="961"/><use href="#cn" x="970.4"/><use href="#cn" x="979.8"/><use href="#cn" x="989.1"/><use href="#cn" x="998.5"/><use href="#cn" x="1007.9"/><use href="#cn" x="1017.3"/><use href="#cn" x="1026.7"/><use href="#cn" x="1036.1"/><use href="#cn" x="1045.5"/><use href="#cn" x="1054.9"/></g>
<g transform="translate(0 369.6)"><use href="#cn" x="745"/><use href="#cn" x="754.4"/><use href="#cn" x="763.8"/><use href="#cn" x="773.2"/><use href="#cn" x="782.6"/><use href="#cn" x="792"/><use href="#cn" x="801.3"/><use href="#cn" x="810.7"/><use href="#cn" x="820.1"/><use href="#cn" x="829.5"/><use href="#cn" x="838.9"/><use href="#cn" x="848.3"/><use href="#cn" x="857.7"/><use href="#cn" x="867.1"/><use href="#cn" x="876.5"/><use href="#cn" x="885.9"/><use href="#cn" x="895.2"/><use href="#cn" x="904.6"/><use href="#cn" x="914"/><use href="#cn" x="923.4"/><use href="#cn" x="932.8"/><use href="#cn" x="942.2"/><use href="#cn" x="951.6"/><use href="#cn" x="961"/><use href="#cn" x="970.4"/><use href="#cn" x="979.8"/><use href="#cn" x="989.1"/><use href="#cn" x="998.5"/><use href="#cn" x="1007.9"/><use href="#cn" x="1017.3"/><use href="#cn" x="1026.7"/><use href="#cn" x="1036.1"/><use href="#cn" x="1045.5"/><use href="#cn" x="1054.9"/></g>
<g transform="translate(0 377.7)"><use href="#cn" x="745"/><use href="#cn" x="754.4"/><use href="#cn" x="763.8"/><use href="#cn" x="773.2"/><use href="#cn" x="782.6"/><use href="#cn" x="792"/><use href="#cn" x="801.3"/><use href="#cn" x="810.7"/><use href="#cn" x="820.1"/><use href="#cn" x="829.5"/><use href="#cn" x="838.9"/><use href="#cn" x="848.3"/><use href="#cn" x="857.7"/><use href="#cn" x="867.1"/><use href="#cn" x="876.5"/><use href="#cn" x="885.9"/><use href="#cn" x="895.2"/><use href="#cn" x="904.6"/><use href="#cn" x="914"/><use href="#cn" x="923.4"/><use href="#cn" x="932.8"/><use href="#cn" x="942.2"/><use href="#cn" x="951.6"/><use href="#cn" x="961"/><use href="#cn" x="970.4"/><use href="#cn" x="979.8"/><use href="#cn" x="989.1"/><use href="#cn" x="998.5"/><use href="#cn" x="1007.9"/><use href="#cn" x="1017.3"/><use href="#cn" x="1026.7"/><use href="#cn" x="1036.1"/><use href="#cn" x="1045.5"/><use href="#cn" x="1054.9"/></g>
<g transform="translate(0 385.8)"><use href="#cn" x="745"/><use href="#cn" x="754.4"/><use href="#cn" x="763.8"/><use href="#cn" x="773.2"/><use href="#cn" x="782.6"/><use href="#cn" x="792"/><use href="#cn" x="801.3"/><use href="#cn" x="810.7"/><use href="#cn" x="820.1"/><use href="#cn" x="829.5"/><use href="#cn" x="838.9"/><use href="#cn" x="848.3"/><use href="#cn" x="857.7"/><use href="#cn" x="867.1"/><use href="#cn" x="876.5"/><use href="#cn" x="885.9"/><use href="#cn" x="895.2"/><use href="#cn" x="904.6"/><use href="#cn" x="914"/><use href="#cn" x="923.4"/><use href="#cn" x="932.8"/><use href="#cn" x="942.2"/><use href="#cn" x="951.6"/><use href="#cn" x="961"/><use href="#cn" x="970.4"/><use href="#cn" x="979.8"/><use href="#cn" x="989.1"/><use href="#cn" x="998.5"/><use href="#cn" x="1007.9"/><use href="#cn" x="1017.3"/><use href="#cn" x="1026.7"/><use href="#cn" x="1036.1"/><use href="#cn" x="1045.5"/><use href="#cn" x="1054.9"/></g>
<g transform="translate(0 394)"><use href="#cn" x="745"/><use href="#cn" x="754.4"/><use href="#cn" x="763.8"/><use href="#cn" x="773.2"/><use href="#cn" x="782.6"/><use href="#cn" x="792"/><use href="#cn" x="801.3"/><use href="#cn" x="810.7"/><use href="#cn" x="820.1"/><use href="#cn" x="829.5"/><use href="#cn" x="838.9"/><use href="#cn" x="848.3"/><use href="#cn" x="857.7"/></g>
</g>
</g>
</svg>
